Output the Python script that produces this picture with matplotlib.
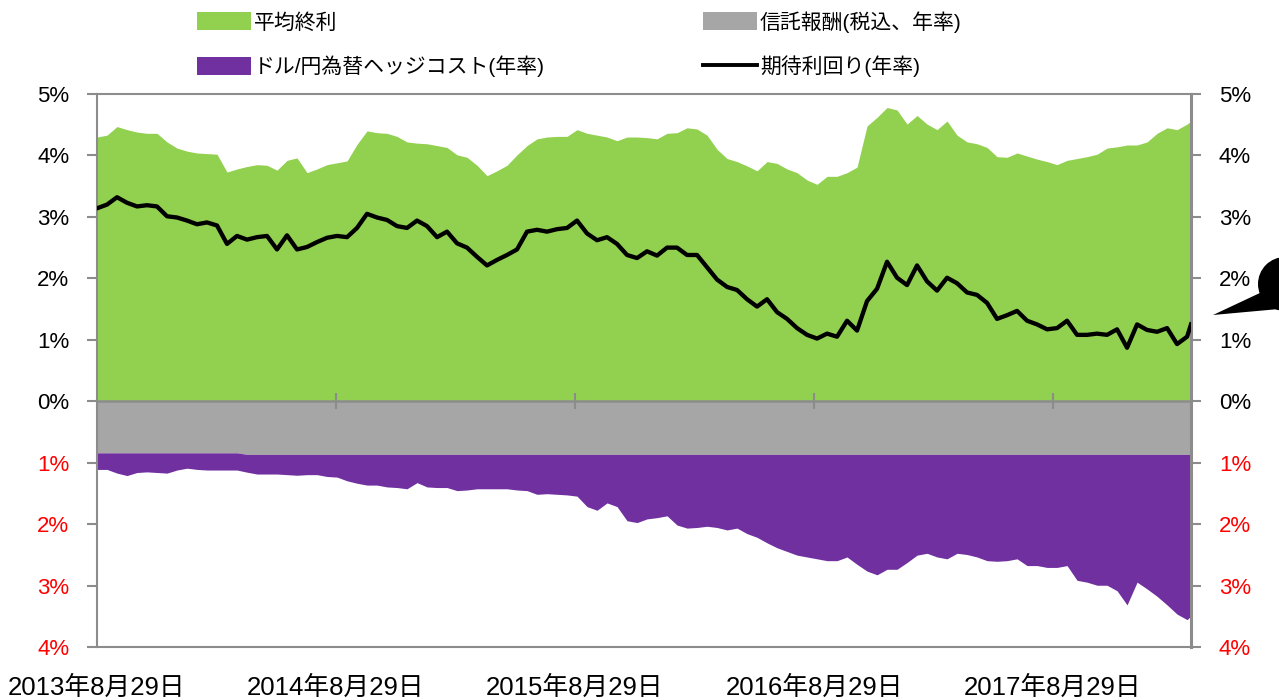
import numpy as np
import pandas as pd
import matplotlib
matplotlib.use('Agg')
import matplotlib.pyplot as plt
from matplotlib.patches import Patch, Ellipse, Polygon
from matplotlib.lines import Line2D

plt.rcParams['font.family'] = ['Liberation Sans', 'Noto Sans CJK JP', 'DejaVu Sans']

# ---------------- data ----------------
start_date = '2013-08-29'
grid_end_date = '2018-03-22'
last_date = '2018-03-28'

avg_yield = [
    4.30, 4.33, 4.47, 4.42, 4.38, 4.36, 4.36, 4.22, 4.12, 4.07, 4.04, 4.03, 4.02, 3.73,
    3.78, 3.82, 3.85, 3.84, 3.76, 3.92, 3.96, 3.72, 3.78, 3.85, 3.88, 3.91, 4.18, 4.40,
    4.37, 4.36, 4.31, 4.22, 4.20, 4.19, 4.16, 4.13, 4.01, 3.97, 3.84, 3.67, 3.75, 3.84,
    4.01, 4.16, 4.27, 4.30, 4.31, 4.31, 4.42, 4.36, 4.33, 4.30, 4.24, 4.30, 4.30, 4.29,
    4.27, 4.36, 4.37, 4.45, 4.43, 4.33, 4.10, 3.95, 3.90, 3.83, 3.75, 3.90, 3.87, 3.78,
    3.72, 3.60, 3.53, 3.66, 3.66, 3.72, 3.81, 4.48, 4.62, 4.78, 4.74, 4.51, 4.65,
    4.51, 4.42, 4.56, 4.33, 4.22, 4.19, 4.13, 3.98, 3.97, 4.04, 3.99, 3.94, 3.90, 3.85,
    3.92, 3.95, 3.98, 4.02, 4.12, 4.14, 4.17, 4.17, 4.22, 4.36, 4.45, 4.42, 4.51, 4.56,
]

expected_yield = [
    3.14, 3.20, 3.32, 3.23, 3.17, 3.19, 3.17, 3.01, 2.99, 2.94, 2.88, 2.91, 2.86, 2.56,
    2.69, 2.63, 2.67, 2.69, 2.47, 2.70, 2.47, 2.51, 2.59, 2.66, 2.69, 2.67, 2.82, 3.05,
    2.99, 2.95, 2.85, 2.82, 2.94, 2.85, 2.67, 2.76, 2.57, 2.50, 2.35, 2.21, 2.30, 2.38,
    2.47, 2.76, 2.79, 2.76, 2.80, 2.82, 2.94, 2.73, 2.62, 2.67, 2.56, 2.38, 2.33, 2.44,
    2.37, 2.50, 2.50, 2.38, 2.38, 2.18, 1.98, 1.86, 1.81, 1.66, 1.54, 1.66, 1.45, 1.34,
    1.19, 1.08, 1.02, 1.10, 1.05, 1.31, 1.15, 1.63, 1.83, 2.27, 2.01, 1.89, 2.21,
    1.95, 1.80, 2.01, 1.92, 1.77, 1.73, 1.60, 1.34, 1.40, 1.47, 1.31, 1.25, 1.17, 1.19,
    1.31, 1.08, 1.08, 1.10, 1.08, 1.17, 0.87, 1.25, 1.16, 1.13, 1.19, 0.93, 1.05, 1.25,
]

hedge_cost = [
    0.27, 0.27, 0.33, 0.37, 0.32, 0.31, 0.32, 0.33, 0.28, 0.25, 0.27, 0.28, 0.28, 0.28,
    0.28, 0.29, 0.32, 0.32, 0.32, 0.33, 0.34, 0.33, 0.33, 0.36, 0.37, 0.43, 0.47, 0.50,
    0.50, 0.53, 0.54, 0.56, 0.46, 0.53, 0.54, 0.54, 0.59, 0.58, 0.56, 0.56, 0.56, 0.56,
    0.58, 0.59, 0.65, 0.64, 0.65, 0.66, 0.68, 0.85, 0.91, 0.79, 0.85, 1.08, 1.11, 1.05,
    1.03, 1.00, 1.15, 1.20, 1.19, 1.17, 1.19, 1.23, 1.20, 1.29, 1.35, 1.44, 1.52, 1.58,
    1.64, 1.67, 1.70, 1.73, 1.73, 1.67, 1.79, 1.90, 1.96, 1.87, 1.87, 1.76, 1.64,
    1.61, 1.67, 1.70, 1.61, 1.63, 1.67, 1.73, 1.74, 1.73, 1.70, 1.81, 1.81, 1.84, 1.84,
    1.81, 2.05, 2.08, 2.13, 2.13, 2.22, 2.45, 2.08, 2.19, 2.31, 2.45, 2.60, 2.69, 2.63,
]

fee_rates = [0.84, 0.865]          # trust fee before / after consumption-tax change
fee_change_date = '2014-04-01'

tick_dates = ['2013-08-29', '2014-08-29', '2015-08-29', '2016-08-29', '2017-08-29']
tick_labels = ['2013年8月29日', '2014年8月29日', '2015年8月29日', '2016年8月29日', '2017年8月29日']
y_ticks = [-4, -3, -2, -1, 0, 1, 2, 3, 4, 5]

legend_labels = ['平均終利', 'ドル/円為替ヘッジコスト(年率)', '信託報酬(税込、年率)', '期待利回り(年率)']

# ---------------- build series ----------------
n = len(avg_yield)
dates = pd.date_range(start_date, grid_end_date, periods=n - 1).append(pd.DatetimeIndex([last_date]))
yld = np.array(avg_yield)
exp_y = np.array(expected_yield)
hedge = np.array(hedge_cost)
fee = np.where(dates < pd.Timestamp(fee_change_date), fee_rates[0], fee_rates[1])

GREEN = '#92D050'
GRAY = '#A6A6A6'
PURPLE = '#7030A0'
AXGRAY = '#8C8C8C'

W, H = 1279, 700
fig = plt.figure(figsize=(W / 100, H / 100), dpi=100)
ax = fig.add_axes([97 / W, (H - 647) / H, (1191 - 97) / W, (647 - 94) / H])

ax.fill_between(dates, 0, yld, color=GREEN, lw=0, zorder=1)
ax.fill_between(dates, -fee, 0, color=GRAY, lw=0, zorder=1)
ax.fill_between(dates, -(fee + hedge), -fee, color=PURPLE, lw=0, zorder=1)
ax.plot(dates, exp_y, color='black', lw=3.1, solid_joinstyle='round', zorder=4)

ax.set_xlim(pd.Timestamp(start_date), pd.Timestamp(last_date))
ax.set_ylim(-4, 5)

# zero line with crossing tick marks
ax.axhline(0, color=AXGRAY, lw=1.8, zorder=3)
td = pd.to_datetime(tick_dates)
ax.plot(td[1:], np.zeros(len(td) - 1), ls='none', marker='|', ms=11, mew=1.5,
        color=AXGRAY, zorder=3)

for s in ax.spines.values():
    s.set_color(AXGRAY)
    s.set_linewidth(1.5)
ax.spines['right'].set_linewidth(2.2)

ax.set_xticks(td)
ax.set_xticklabels(tick_labels)
ax.tick_params(axis='x', length=0, pad=20.5, labelsize=18.5)

ax.set_yticks(y_ticks)
ax.set_yticklabels([f'{abs(v)}%' for v in y_ticks])
ax.tick_params(axis='y', left=True, right=True, labelleft=True, labelright=True,
               direction='out', length=7, width=1.5, color=AXGRAY, pad=13, labelsize=16)
for v, t in zip(y_ticks, ax.yaxis.get_major_ticks()):
    c = 'red' if v < 0 else 'black'
    t.label1.set_color(c)
    t.label2.set_color(c)

# legend
handles = [Patch(facecolor=GREEN, edgecolor='none'),
           Patch(facecolor=PURPLE, edgecolor='none'),
           Patch(facecolor=GRAY, edgecolor='none'),
           Line2D([0], [0], color='black', lw=2.8)]
fig.legend(handles, legend_labels, ncol=2, loc='upper left',
           bbox_to_anchor=(197 / W, 1 - 11 / H), frameon=False, fontsize=15,
           handlelength=2.6, handleheight=0.95, handletextpad=0.15,
           columnspacing=7.55, labelspacing=1.1, borderpad=0, borderaxespad=0)

# speech bubble at right edge
cx, cy, r = 1285, 284, 27
fig.add_artist(Ellipse((cx / W, 1 - cy / H), 2 * r / W, 2 * r / H,
                       transform=fig.transFigure, facecolor='black', edgecolor='none'))
tail = [(1213, 315), (1262, 292), (1279, 309)]
fig.add_artist(Polygon([(x / W, 1 - y / H) for x, y in tail], closed=True,
                       transform=fig.transFigure, facecolor='black', edgecolor='none'))

fig.savefig('out.png', dpi=100)
